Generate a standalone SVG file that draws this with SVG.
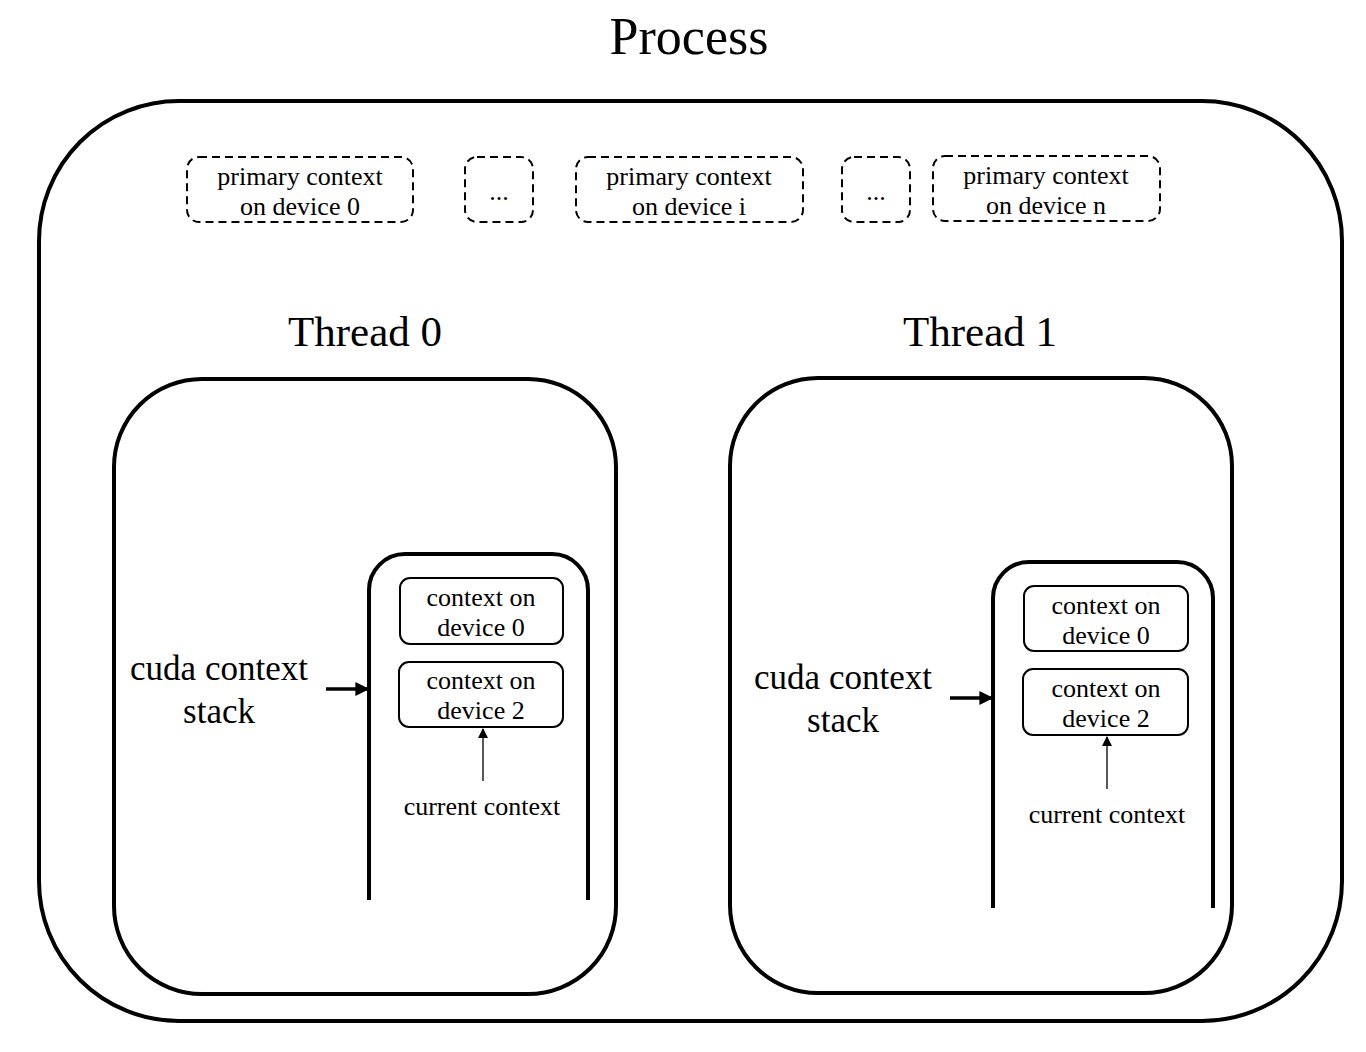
<svg xmlns="http://www.w3.org/2000/svg" width="1366" height="1052" viewBox="0 0 1366 1052">
<style>
text{font-family:"Liberation Serif","Times New Roman",serif;fill:#000;text-anchor:middle}
.big{font-size:52px}
.thr{font-size:43px}
.lbl{font-size:35px}
.sm{font-size:26px}
.cur{font-size:26px}
.thick{fill:none;stroke:#000;stroke-width:4}
.stack{fill:none;stroke:#000;stroke-width:4}
.dash{fill:none;stroke:#000;stroke-width:2;stroke-dasharray:8,5}
.inner{fill:#fff;stroke:#000;stroke-width:2}
</style>
<defs>
<marker id="ah" viewBox="0 0 10 10" refX="9" refY="5" markerWidth="4" markerHeight="4" orient="auto"><path d="M0,0L10,5L0,10z" fill="#000"/></marker>
<marker id="ah2" viewBox="0 0 10 10" refX="9" refY="5" markerWidth="10" markerHeight="12" orient="auto" markerUnits="userSpaceOnUse"><path d="M0,0L10,5L0,10z" fill="#000"/></marker>
</defs>
<rect width="1366" height="1052" fill="#fff"/>
<g id="process">
<rect x="39" y="101" width="1303" height="920" rx="140" ry="140" class="thick"/>
<text x="689" y="54" class="big">Process</text>
</g>
<g id="pc0"><rect x="187" y="157" width="226" height="65" rx="12" class="dash"/><text x="300" y="185" class="sm">primary context</text><text x="300" y="215" class="sm">on device 0</text></g>
<g id="dots1"><rect x="465" y="157" width="68" height="65" rx="12" class="dash"/><text x="499" y="200" class="sm">...</text></g>
<g id="pci"><rect x="576" y="157" width="227" height="65" rx="12" class="dash"/><text x="689" y="185" class="sm">primary context</text><text x="689" y="215" class="sm">on device i</text></g>
<g id="dots2"><rect x="842" y="157" width="68" height="65" rx="12" class="dash"/><text x="876" y="200" class="sm">...</text></g>
<g id="pcn"><rect x="933" y="156" width="227" height="65" rx="12" class="dash"/><text x="1046" y="184" class="sm">primary context</text><text x="1046" y="214" class="sm">on device n</text></g>
<g id="thread0">
<text x="365" y="346" class="thr">Thread 0</text>
<rect x="114" y="379" width="502" height="615" rx="88" ry="88" class="thick"/>
<text x="219" y="680" class="lbl">cuda context</text>
<text x="219" y="723" class="lbl">stack</text>
</g>
<g id="stack0">
<path d="M369,900 V590 A36,36 0 0 1 405,554 H552 A36,36 0 0 1 588,590 V900" class="stack"/>
</g>
<g id="ctx0a"><rect x="400" y="578" width="163" height="66" rx="10" class="inner"/><text x="481" y="606" class="sm">context on</text><text x="481" y="636" class="sm">device 0</text></g>
<g id="ctx0b"><rect x="399" y="662" width="164" height="65" rx="10" class="inner"/><text x="481" y="689" class="sm">context on</text><text x="481" y="719" class="sm">device 2</text></g>
<g id="cur0"><text x="482" y="815" class="cur">current context</text></g>
<g id="thread1">
<text x="980" y="346" class="thr">Thread 1</text>
<rect x="730" y="378" width="502" height="615" rx="88" ry="88" class="thick"/>
<text x="843" y="689" class="lbl">cuda context</text>
<text x="843" y="732" class="lbl">stack</text>
</g>
<g id="stack1">
<path d="M993,908 V598 A36,36 0 0 1 1029,562 H1177 A36,36 0 0 1 1213,598 V908" class="stack"/>
</g>
<g id="ctx1a"><rect x="1024" y="586" width="164" height="65" rx="10" class="inner"/><text x="1106" y="614" class="sm">context on</text><text x="1106" y="644" class="sm">device 0</text></g>
<g id="ctx1b"><rect x="1023" y="669" width="165" height="66" rx="10" class="inner"/><text x="1106" y="697" class="sm">context on</text><text x="1106" y="727" class="sm">device 2</text></g>
<g id="cur1"><text x="1107" y="823" class="cur">current context</text></g>
<g id="connectors">
<line x1="326" y1="689" x2="368" y2="689" stroke="#000" stroke-width="3.5" marker-end="url(#ah)"/>
<line x1="950" y1="698" x2="992" y2="698" stroke="#000" stroke-width="3.5" marker-end="url(#ah)"/>
<line x1="483" y1="781" x2="483" y2="729" stroke="#000" stroke-width="1.3" marker-end="url(#ah2)"/>
<line x1="1107" y1="789" x2="1107" y2="737" stroke="#000" stroke-width="1.3" marker-end="url(#ah2)"/>
</g>
</svg>
